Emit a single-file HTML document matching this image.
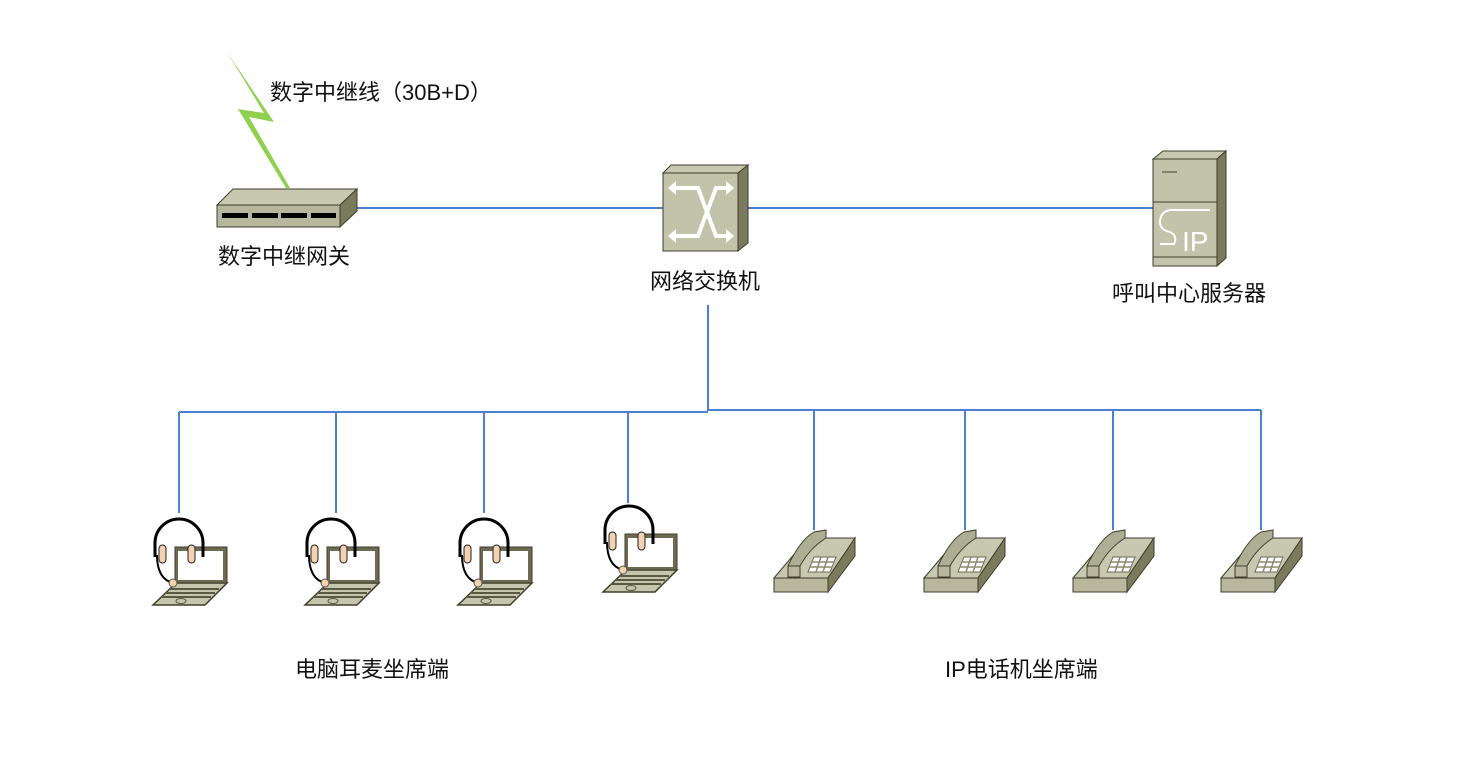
<!DOCTYPE html>
<html><head><meta charset="utf-8"><style>
html,body{margin:0;padding:0;background:#fff}
svg{display:block}
text{font-family:"Liberation Sans","Noto Sans CJK SC",sans-serif;font-size:22px;fill:#111}
</style></head><body>
<svg width="1471" height="777" viewBox="0 0 1471 777" xmlns="http://www.w3.org/2000/svg">
<defs>
<g id="lap">
  <path d="M-3,66 L48,66 L26,88 L-26,88 Z" fill="#c6c5ae" stroke="#3e3e2c" stroke-width="1.5"/>
  <path d="M-10,72 L40,72 M-14,76 L36,76 M-18,80 L32,80" stroke="#5a5a40" stroke-width="2"/>
  <ellipse cx="2" cy="84" rx="5" ry="2.5" fill="none" stroke="#5a5a40"/>
  <rect x="-4" y="30" width="52" height="36" fill="#6c6b52" stroke="#3e3e2c"/>
  <rect x="-1" y="34" width="45" height="29" fill="#fff"/>
  <path d="M-22,38 Q-22,62 -6,66" fill="none" stroke="#000" stroke-width="2"/>
  <circle cx="-6" cy="66" r="4" fill="#f2d2b0" stroke="#555"/>
  <path d="M-24,40 L-24,26 A24,24 0 0 1 24,26 L24,40" fill="none" stroke="#000" stroke-width="3"/>
  <rect x="-20" y="28" width="7" height="18" rx="3.5" fill="#f2d2b0" stroke="#222"/>
  <rect x="9" y="28" width="7" height="18" rx="3.5" fill="#f2d2b0" stroke="#222"/>
</g>
<g id="ph">
  <path d="M-40,48 L-6,8 L41,8 L14,48 Z" fill="#c8c7b0" stroke="#3e3e2c"/>
  <path d="M14,48 L41,8 L41,26 L14,62 Z" fill="#7a7a5c" stroke="#3e3e2c"/>
  <rect x="-40" y="48" width="54" height="14" fill="#b8b79e" stroke="#3e3e2c"/>
  <path d="M-26,36 Q-14,10 0,2 L12,0 L12,8 Q-4,18 -14,36 L-14,46 L-26,46 Z" fill="#aeae94" stroke="#3e3e2c"/>
  <rect x="-26" y="36" width="12" height="11" fill="#b8b79e" stroke="#3e3e2c"/>
  <path d="M0,27 L22,27 L16,42 L-6,42 Z" fill="#fff" stroke="#6a6a50"/>
  <path d="M-2,32 L20,32 M-4,37 L18,37 M7,27 L2,42 M14,27 L9,42" stroke="#8a8a70" stroke-width="1.5"/>
</g>
</defs>

<g stroke="#4a7fd4" stroke-width="2" fill="none">
  <path d="M356,208 L664,208 M737,208 L1155,208"/>
  <path d="M708,305 L708,411"/>
  <path d="M179,412 L708,412 M708,410 L1261,410"/>
  <path d="M179,412 L179,513 M336,412 L336,513 M484,412 L484,513 M628,412 L628,503"/>
  <path d="M814,410 L814,530 M965,410 L965,530 M1113,410 L1113,530 M1261,410 L1261,530"/>
</g>

<path d="M227,52 L274,122 L249,117 L290,188 L286,188 L238,109 L264,113 Z" fill="#8fd14f"/>

<path d="M217,205 L233,189 L357,189 L340,205 Z" fill="#c8c7b0" stroke="#3e3e2c"/>
<path d="M340,205 L357,189 L357,211 L340,227 Z" fill="#7a7a5c" stroke="#3e3e2c"/>
<rect x="217" y="205" width="123" height="22" fill="#b8b79e" stroke="#3e3e2c"/>
<g fill="#000"><rect x="222" y="213" width="26" height="5"/><rect x="252" y="213" width="26" height="5"/><rect x="281" y="213" width="26" height="5"/><rect x="311" y="213" width="25" height="5"/></g>

<path d="M663,173 L671,165 L748,165 L738,173 Z" fill="#c8c7b0" stroke="#3e3e2c"/>
<path d="M738,173 L748,165 L748,243 L738,251 Z" fill="#7a7a5c" stroke="#3e3e2c"/>
<rect x="663" y="173" width="75" height="78" fill="#c3c2aa" stroke="#3e3e2c"/>
<g fill="none" stroke="#fff" stroke-width="4">
  <path d="M686,188 L698,188 L716,236 L730,236"/><path d="M726,188 L716,188 L698,236 L672,236"/>
  <path d="M670,188 L686,188 M716,188 L730,188"/>
</g>
<g fill="#fff"><path d="M668,188 L676,181 L676,195 Z"/><path d="M734,188 L726,181 L726,195 Z"/><path d="M668,236 L676,229 L676,243 Z"/><path d="M734,236 L726,229 L726,243 Z"/></g>

<path d="M1153,159 L1163,151 L1226,151 L1217,159 Z" fill="#c8c7b0" stroke="#3e3e2c"/>
<path d="M1217,159 L1226,151 L1226,258 L1217,266 Z" fill="#7a7a5c" stroke="#3e3e2c"/>
<rect x="1153" y="159" width="64" height="107" fill="#c3c2aa" stroke="#3e3e2c"/>
<path d="M1153,202 L1217,202 M1153,257 L1217,257 M1162,172 L1177,172" stroke="#3e3e2c"/>
<g fill="none" stroke="#fff" stroke-width="2"><path d="M1210,210 L1170,210 Q1160,212 1160,222 Q1160,230 1170,232 Q1178,236 1174,244 L1160,244"/></g>
<text x="1182" y="251" style="fill:#fff;font-size:28px">IP</text>

<use href="#lap" x="179" y="517"/>
<use href="#lap" x="331" y="517"/>
<use href="#lap" x="484" y="517"/>
<use href="#lap" x="629" y="504"/>

<use href="#ph" x="814" y="530"/>
<use href="#ph" x="964" y="530"/>
<use href="#ph" x="1113" y="530"/>
<use href="#ph" x="1261" y="530"/>

<text x="270" y="100">数字中继线（30B+D）</text>
<text x="218" y="264">数字中继网关</text>
<text x="650" y="289">网络交换机</text>
<text x="1112" y="301">呼叫中心服务器</text>
<text x="295" y="677">电脑耳麦坐席端</text>
<text x="945" y="677">IP电话机坐席端</text>
</svg>
</body></html>
